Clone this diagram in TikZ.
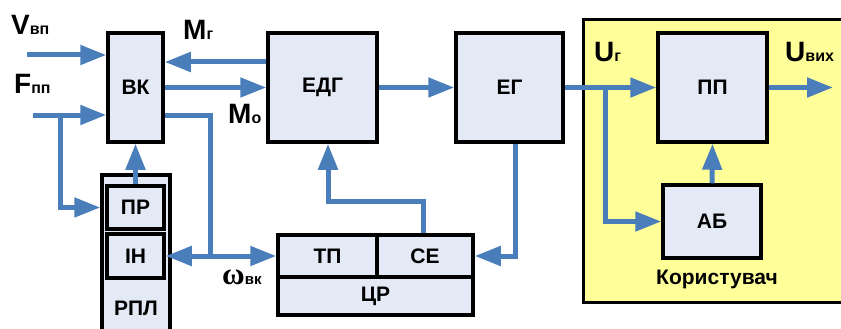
\documentclass[tikz,border=0pt]{standalone}
\usepackage{fontspec}
\setmainfont{Liberation Sans}
\newfontfamily\greekserif{Liberation Serif}
\usetikzlibrary{arrows.meta}
\definecolor{flowblue}{RGB}{74,126,187}
\definecolor{boxfill}{RGB}{227,234,246}
\definecolor{userfill}{RGB}{255,255,153}

\begin{document}
\begin{tikzpicture}[x=1pt,y=-1pt,
  blk/.style={draw=black,line width=3.5pt,fill=boxfill,inner sep=0pt,
    font=\fontsize{21}{21}\selectfont\bfseries},
  flow/.style={draw=flowblue,line width=5pt},
  arr/.style={flow,-{Triangle[length=26pt,width=19pt]}},
  twoway/.style={flow,{Triangle[length=26pt,width=19pt]}-{Triangle[length=26pt,width=19pt]}},
  sig/.style={inner sep=0pt,anchor=base west,font=\bfseries},
]
\useasboundingbox (0,0) rectangle (841,329);
\clip (0,0) rectangle (841,329);
\fill[white] (0,0) rectangle (841,329);

% consumer area (runs past the right edge)
\node[draw=black,line width=3pt,fill=userfill,inner sep=0pt,
  minimum width=360pt,minimum height=282pt] (user) at (763,161) {};
\node[font=\fontsize{21}{21}\selectfont\bfseries] (ulab) at (717,279) {Користувач};

% main blocks
\node[blk,minimum width=55pt,minimum height=109pt] (vk) at (135.5,87.5) {ВК};
\node[blk,minimum width=109pt,minimum height=109pt] (edg) at (322.5,87.5) {ЕДГ};
\node[blk,minimum width=107pt,minimum height=109pt] (eg) at (509.5,87.5) {ЕГ};
\node[blk,minimum width=109pt,minimum height=109pt] (pp) at (712.5,87.5) {ПП};
\node[blk,minimum width=98pt,minimum height=73pt] (ab) at (712,221.5) {АБ};

% regulator column
\node[blk,minimum width=68pt,minimum height=165pt] (rpl) at (136,257.5) {};
\node[font=\fontsize{21}{21}\selectfont\bfseries] (rpllab) at (136,308) {РПЛ};
\node[blk,minimum width=57pt,minimum height=43pt] (pr) at (135.5,207.5) {ПР};
\node[blk,minimum width=57pt,minimum height=44pt] (in) at (135.5,256) {ІН};

% control unit
\node[blk,minimum width=195pt,minimum height=38pt] (cr) at (375.5,296) {ЦР};
\node[blk,minimum width=99pt,minimum height=42pt] (tp) at (327.5,256) {ТП};
\node[blk,minimum width=96pt,minimum height=42pt] (se) at (425,256) {СЕ};

% signal labels
\node[sig] (vlab) at (11,35) {\fontsize{28}{28}\selectfont V\fontsize{16}{16}\selectfont вп};
\node[sig] (flab) at (14,93) {\fontsize{28}{28}\selectfont F\fontsize{16}{16}\selectfont пп};
\node[sig] (mglab) at (183,40) {\fontsize{28}{28}\selectfont M\fontsize{16}{16}\selectfont г};
\node[sig] (molab) at (228,123) {\fontsize{28}{28}\selectfont M\fontsize{16}{16}\selectfont о};
\node[sig] (uglab) at (594,62) {\fontsize{28}{28}\selectfont U\fontsize{16}{16}\selectfont г};
\node[sig] (uvlab) at (785,62) {\fontsize{28}{28}\selectfont U\fontsize{16}{16}\selectfont вих};
\node[sig] (wlab) at (222,284) {{\greekserif\bfseries\fontsize{31}{31}\selectfont ω}\fontsize{15}{15}\selectfont вк};

% free ends and bends
\coordinate (vin) at (27,55);
\coordinate (fin) at (33,115);
\coordinate (fbr) at (60,115);
\coordinate (wbr) at (210,115);
\coordinate (ubr) at (605,87.5);
\coordinate (uout) at (833,87.5);

% connectors
\draw[arr] (vin) -- (vin -| vk.west);
\draw[arr] (fin) -- (fin -| vk.west);
\draw[arr] (fbr) |- (rpl.west |- pr.west);
\draw[arr] (edg.west |- 0,62) -- (vk.east |- 0,62);
\draw[arr] (vk.east |- 0,87.5) -- (edg.west |- 0,87.5);
\draw[flow] (vk.east |- wbr) -- (wbr) -- (wbr |- in.east);
\draw[twoway] (in.east) -- (tp.west);
\draw[arr] (pr.north) -- (vk.south);
\draw[arr] (edg.east) -- (eg.west);
\draw[arr] ([xshift=5.5pt]eg.south) |- (se.east);
\draw[arr] ([xshift=-2pt]se.north) -- ++(0,-32) -| ([xshift=5.5pt]edg.south);
\draw[arr] (eg.east) -- (pp.west);
\draw[arr] (ubr) |- (ab.west);
\draw[arr] (ab.north) -- (pp.south);
\draw[arr] (pp.east) -- (uout);
\end{tikzpicture}
\end{document}
